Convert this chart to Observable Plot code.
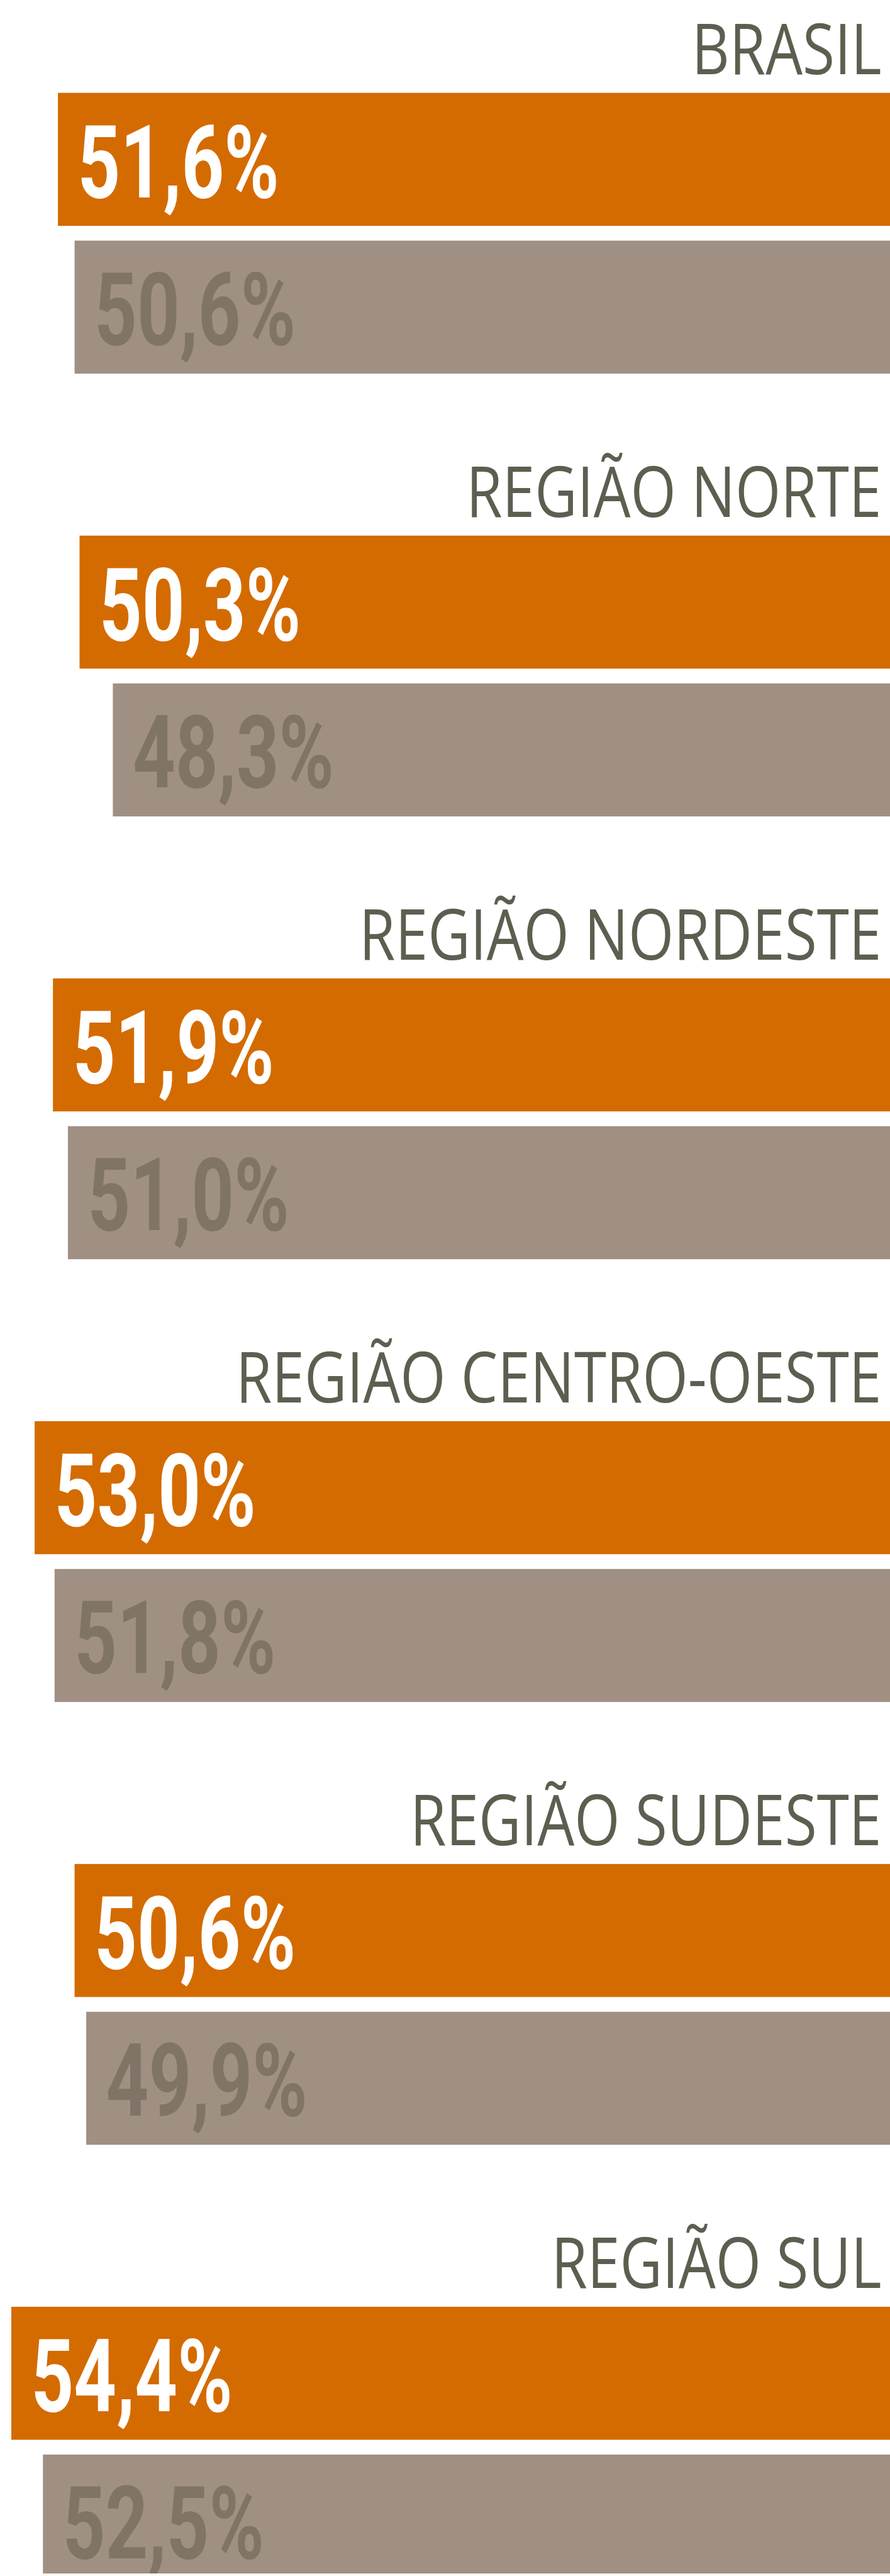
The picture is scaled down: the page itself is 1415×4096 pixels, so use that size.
<!DOCTYPE html>
<html>
<head>
<meta charset="utf-8">
<script src="https://cdn.jsdelivr.net/npm/d3@7"></script>
<script src="https://cdn.jsdelivr.net/npm/@observablehq/plot@0.6"></script>
<style>
  html, body { margin: 0; padding: 0; background: #ffffff; overflow: hidden; }
  svg { overflow: hidden; display: block; }
</style>
</head>
<body>
<div id="chart"></div>
<script>
const regioes = ["BRASIL", "REGIÃO NORTE", "REGIÃO NORDESTE", "REGIÃO CENTRO-OESTE", "REGIÃO SUDESTE", "REGIÃO SUL"];
const valoresLaranja = [51.6, 50.3, 51.9, 53.0, 50.6, 54.4];
const valoresCinza = [50.6, 48.3, 51.0, 51.8, 49.9, 52.5];

const data = regioes.map((r, i) => ({regiao: r, laranja: valoresLaranja[i], cinza: valoresCinza[i]}));
const fmt = v => v.toFixed(1).replace(".", ",") + "%";

const W = 1415, H = 4092, STEP = 704.06;

const chart = Plot.plot({
  width: W,
  height: H,
  marginTop: 0, marginBottom: 0, marginLeft: 0, marginRight: 14,
  style: {background: "#ffffff", overflow: "hidden"},
  x: {domain: [0, 55.08], range: [1457.5, 0], axis: null},
  y: {type: "band", domain: regioes, range: [0, STEP * regioes.length], padding: 0, round: false, axis: null},
  marks: [
    Plot.barX(data, {y: "regiao", x1: 0, x2: "laranja", fill: "#d46b00", insetTop: 147.6, insetBottom: 344.96}),
    Plot.barX(data, {y: "regiao", x1: 0, x2: "cinza", fill: "#a09083", insetTop: 382.6, insetBottom: 109.96}),
    Plot.text(data, {y: "regiao", frameAnchor: "right", textAnchor: "end", text: "regiao", lineAnchor: "bottom",
      dy: -234.5, fontSize: 112, fill: "#5e5e50", fontFamily: "Open Sans"}),
    Plot.text(data, {y: "regiao", x: "laranja", text: d => fmt(d.laranja), textAnchor: "start", dx: 31,
      lineAnchor: "bottom", dy: -39, fontSize: 162, fontWeight: 700, fill: "#ffffff", fontFamily: "Roboto"}),
    Plot.text(data, {y: "regiao", x: "cinza", text: d => fmt(d.cinza), textAnchor: "start", dx: 31,
      lineAnchor: "bottom", dy: 195.6, fontSize: 162, fontWeight: 700, fill: "#807467", fontFamily: "Roboto"})
  ]
});

document.getElementById("chart").appendChild(chart);

function condense(selector, f) {
  chart.querySelectorAll(selector).forEach(t => {
    t.removeAttribute("textLength");
    t.removeAttribute("lengthAdjust");
    const L = t.getComputedTextLength();
    if (L > 0) {
      t.setAttribute("textLength", (L * f).toFixed(1));
      t.setAttribute("lengthAdjust", "spacingAndGlyphs");
    }
  });
}
function apply() {
  condense('g[font-family="Open Sans"] text', 0.83);
  condense('g[font-family="Roboto"] text', 0.73);
}
apply();
if (document.fonts && document.fonts.ready) document.fonts.ready.then(apply);
</script>
</body>
</html>
